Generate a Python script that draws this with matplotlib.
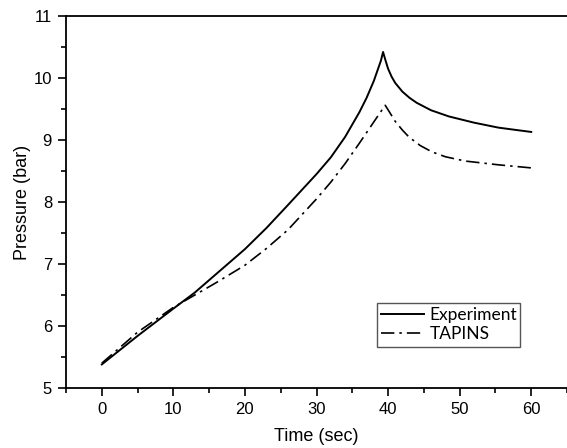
import matplotlib
matplotlib.use("Agg")
import matplotlib.pyplot as plt
from matplotlib.ticker import MultipleLocator

exp_t = [0, 5, 10, 13, 16, 20, 23, 26, 28, 30, 32, 34, 36, 37, 38, 39, 39.3,
         39.6, 40, 40.5, 41, 42, 43, 44, 46, 48.5, 52, 55.4, 58, 60]
exp_p = [5.38, 5.84, 6.28, 6.54, 6.84, 7.24, 7.58, 7.95, 8.20, 8.45, 8.72, 9.05,
         9.45, 9.68, 9.95, 10.28, 10.42, 10.30, 10.15, 10.02, 9.92, 9.78, 9.68,
         9.60, 9.48, 9.38, 9.28, 9.20, 9.16, 9.13]

tap_t = [0, 5, 10, 13, 16, 20, 23, 26, 28, 30, 32, 34, 36, 37, 38, 39, 39.6,
         40.2, 41, 42, 42.9, 44.5, 46.1, 48, 50.8, 55.4, 60]
tap_p = [5.40, 5.90, 6.30, 6.50, 6.70, 6.98, 7.25, 7.55, 7.80, 8.05, 8.32, 8.62,
         8.95, 9.12, 9.29, 9.46, 9.56, 9.45, 9.30, 9.16, 9.05, 8.91, 8.81, 8.73,
         8.66, 8.60, 8.55]

plt.rcParams['font.family'] = ['Liberation Sans', 'DejaVu Sans']

fig = plt.figure(figsize=(5.67, 4.48), dpi=100)
ax = fig.add_axes([66/567, (448-388)/448, (567-66)/567, (388-16)/448])

ax.plot(exp_t, exp_p, color='black', lw=1.4, label='Experiment')
ax.plot(tap_t, tap_p, color='black', lw=1.2, linestyle=(0, (8, 3, 1.5, 3)), label='TAPINS')

ax.set_xlim(-5, 65)
ax.set_ylim(5, 11)
ax.xaxis.set_major_locator(MultipleLocator(10))
ax.xaxis.set_minor_locator(MultipleLocator(5))
ax.yaxis.set_major_locator(MultipleLocator(1))
ax.yaxis.set_minor_locator(MultipleLocator(0.5))
ax.tick_params(which='major', direction='out', length=6, width=1.2, labelsize=12, pad=4)
ax.tick_params(which='minor', direction='out', length=3.5, width=1.2)
ax.tick_params(top=False, right=False, which='both')

for s in ['left', 'bottom', 'top']:
    ax.spines[s].set_linewidth(1.3)
ax.spines['right'].set_visible(False)

ax.set_xlabel('Time (sec)', fontsize=13, labelpad=8)
ax.set_ylabel('Pressure (bar)', fontsize=13, labelpad=2)

leg = ax.legend(loc='lower left', bbox_to_anchor=(0.62, 0.111, 0.286, 0.13),
                mode='expand', prop={'family': 'Lato', 'size': 12.5},
                fancybox=False, edgecolor='#555555', framealpha=1,
                handlelength=2.5, handletextpad=0.3, borderpad=0.25,
                labelspacing=0.2, borderaxespad=0)
leg.get_frame().set_linewidth(1.0)

fig.savefig('out.png', dpi=100)
